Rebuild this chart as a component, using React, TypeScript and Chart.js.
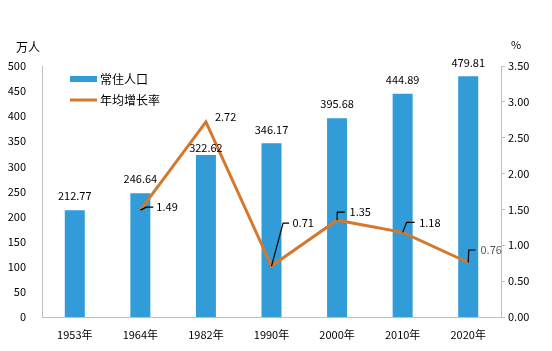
import React, { useEffect, useRef } from "react";
import { Chart, registerables } from "chart.js";

Chart.register(...registerables);

const categories = ["1953年", "1964年", "1982年", "1990年", "2000年", "2010年", "2020年"];
const population = [212.77, 246.64, 322.62, 346.17, 395.68, 444.89, 479.81];
const growthRate = [null, 1.49, 2.72, 0.71, 1.35, 1.18, 0.76];
const leftTicks = [0, 50, 100, 150, 200, 250, 300, 350, 400, 450, 500];
const rightTicks = [0, 0.5, 1, 1.5, 2, 2.5, 3, 3.5];

const BLUE = "#319CD8";
const ORANGE = "#D5782E";
const FONT = "'Noto Sans CJK SC', 'Noto Sans', sans-serif";

// label styling (offsets from the mark, in px)
const barLabelLift = [14, 14, 7, 13, 15, 14, 13];
// leader path offsets and label offset
const lineLabelStyle: any[] = [
  null,
  { leader: [[6, -3], [13, -3]], label: [16, -3], color: "#000" },
  { leader: null, label: [9, -5], color: "#000" },
  { leader: [[11.6, -43], [17.6, -43]], label: [21, -43], color: "#000" },
  { leader: [[0.2, -8], [7.7, -8]], label: [12.5, -8], color: "#000" },
  { leader: [[4, -10], [12, -10]], label: [16.5, -10], color: "#000" },
  { leader: [[0.6, -12.5], [7.3, -12.5]], label: [12.3, -12.5], color: "#595959" },
];

const labelPlugin = {
  id: "labels",
  afterDatasetsDraw(chart: any) {
    const ctx = chart.ctx;
    ctx.save();
    const barMeta = chart.getDatasetMeta(1);
    ctx.font = `11px ${FONT}`;
    ctx.fillStyle = "#000";
    ctx.textAlign = "center";
    ctx.textBaseline = "middle";
    barMeta.data.forEach((el: any, i: number) => {
      ctx.fillText(population[i].toFixed(2), el.x, el.y - barLabelLift[i]);
    });
    const lineMeta = chart.getDatasetMeta(0);
    lineMeta.data.forEach((el: any, i: number) => {
      const v = growthRate[i];
      const st = lineLabelStyle[i];
      if (v == null || !st) return;
      const x = el.x;
      const y = el.y;
      if (st.leader) {
        ctx.beginPath();
        ctx.strokeStyle = "#000";
        ctx.lineWidth = 1.2;
        ctx.moveTo(x, y);
        st.leader.forEach((p: number[]) => ctx.lineTo(x + p[0], y + p[1]));
        ctx.stroke();
      }
      ctx.fillStyle = st.color;
      ctx.textAlign = "left";
      ctx.textBaseline = "middle";
      ctx.fillText(v.toFixed(2), x + st.label[0], y + st.label[1]);
    });
    ctx.fillStyle = "#000";
    ctx.font = `12px ${FONT}`;
    ctx.textAlign = "left";
    ctx.fillText("万人", 16, 47);
    ctx.font = `11px ${FONT}`;
    ctx.fillText("%", 511, 45);
    ctx.fillStyle = BLUE;
    ctx.fillRect(70, 76, 27, 6);
    ctx.strokeStyle = ORANGE;
    ctx.lineWidth = 3;
    ctx.beginPath();
    ctx.moveTo(70, 100);
    ctx.lineTo(97, 100);
    ctx.stroke();
    ctx.fillStyle = "#000";
    ctx.font = `12px ${FONT}`;
    ctx.fillText("常住人口", 100, 79);
    ctx.fillText("年均增长率", 100, 100);
    ctx.restore();
  },
};

export default function App() {
  const ref = useRef<HTMLCanvasElement>(null);
  useEffect(() => {
    document.body.style.margin = "0";
    const chart = new Chart(ref.current!, {
      type: "bar",
      data: {
        labels: categories,
        datasets: [
          {
            type: "line",
            label: "年均增长率",
            data: growthRate as any,
            yAxisID: "y1",
            borderColor: ORANGE,
            borderWidth: 3,
            pointRadius: 0,
            tension: 0,
            order: 0,
          } as any,
          {
            type: "bar",
            label: "常住人口",
            data: population,
            yAxisID: "y",
            backgroundColor: BLUE,
            borderWidth: 0,
            barPercentage: 0.305,
            categoryPercentage: 1,
            order: 1,
          },
        ],
      },
      options: {
        responsive: false,
        animation: false,
        devicePixelRatio: 1,
        layout: { padding: { top: 66, left: 0, right: 0, bottom: 0 } },
        plugins: { legend: { display: false }, tooltip: { enabled: false } },
        scales: {
          x: {
            offset: true,
            grid: { display: false },
            border: { display: true, color: "#BFBFBF", width: 1 },
            ticks: { color: "#000", font: { family: FONT, size: 11 }, padding: 3, maxRotation: 0 },
            afterFit: (s: any) => { s.height = 34; },
          },
          y: {
            position: "left",
            min: 0,
            max: 500,
            afterBuildTicks: (s: any) => { s.ticks = leftTicks.map((v) => ({ value: v })); },
            grid: { display: false },
            border: { display: true, color: "#BFBFBF", width: 1 },
            ticks: { color: "#000", font: { family: FONT, size: 11 }, padding: 8, callback: (v: any) => String(v) },
            afterFit: (s: any) => { s.width = 42; },
          },
          y1: {
            position: "right",
            min: 0,
            max: 3.5,
            afterBuildTicks: (s: any) => { s.ticks = rightTicks.map((v) => ({ value: v })); },
            grid: { display: true, drawOnChartArea: false, drawTicks: true, tickLength: 4, color: "#BFBFBF" },
            border: { display: true, color: "#BFBFBF", width: 1 },
            ticks: { color: "#000", font: { family: FONT, size: 11 }, padding: 3, callback: (v: any) => Number(v).toFixed(2) },
            afterFit: (s: any) => { s.width = 51; },
          },
        },
      },
      plugins: [labelPlugin],
    });
    return () => chart.destroy();
  }, []);
  return <canvas ref={ref} width={552} height={351} style={{ display: "block" }} />;
}
